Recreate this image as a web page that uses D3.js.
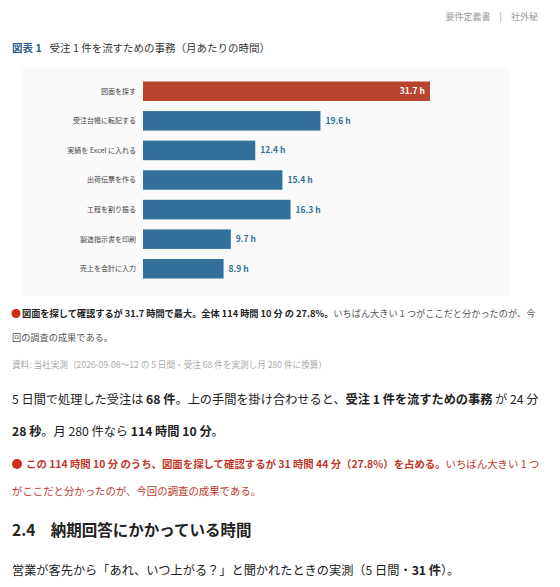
<!DOCTYPE html>
<html><head><meta charset="utf-8">
<script src="https://cdn.jsdelivr.net/npm/d3@7"></script>
<style>
body{margin:0;background:#fff;font-family:"Noto Sans CJK JP","Noto Sans",sans-serif;}
svg{display:block}
</style></head><body>
<svg id="c" width="560" height="587"></svg>
<script>
const categories=["図面を探す","受注台帳に転記する","実績を Excel に入れる","出荷伝票を作る","工程を割り振る","製造指示書を印刷","売上を会計に入力"];
const values=[31.7,19.6,12.4,15.4,16.3,9.7,8.9];
const highlight=[true,false,false,false,false,false,false];
const svg=d3.select("#c");
const F='"Noto Sans CJK JP",sans-serif';
svg.append("text").attr("x",538).attr("y",20).attr("text-anchor","end").attr("font-size",9).attr("fill","#999").attr("font-family",F).text("要件定義書　|　社外秘");
const t=svg.append("text").attr("x",12).attr("y",52).attr("font-size",10.5).attr("font-family",F);
t.append("tspan").attr("fill","#2c5f8a").attr("font-weight","bold").text("図表 1");
t.append("tspan").attr("fill","#333").attr("dx",8).text("受注 1 件を流すための事務（月あたりの時間）");
svg.append("rect").attr("x",22).attr("y",68).attr("width",488).attr("height",228).attr("fill","#fafafa");
const x=d3.scaleLinear().domain([0,31.7]).range([143,430]);
const y=d3.scaleBand().domain(categories).range([80,280]).paddingInner(0.34).paddingOuter(0.05);
const g=svg.append("g");
categories.forEach((c,i)=>{
 const yy=y(c),h=y.bandwidth();
 g.append("rect").attr("x",x(0)).attr("y",yy).attr("width",x(values[i])-x(0)).attr("height",h).attr("fill",highlight[i]?"#b8432f":"#31719b");
 g.append("text").attr("x",136).attr("y",yy+h/2).attr("dy","0.35em").attr("text-anchor","end").attr("font-size",7).attr("fill","#444").attr("font-family",F).text(c);
 const lbl=values[i].toFixed(1)+" h";
 if(highlight[i]) g.append("text").attr("x",x(values[i])-5).attr("y",yy+h/2).attr("dy","0.35em").attr("text-anchor","end").attr("font-size",8.5).attr("font-weight","bold").attr("fill","#fff").attr("font-family",F).text(lbl);
 else g.append("text").attr("x",x(values[i])+5).attr("y",yy+h/2).attr("dy","0.35em").attr("font-size",8.5).attr("font-weight","bold").attr("fill","#31719b").attr("font-family",F).text(lbl);
});
function line(x0,y0,parts,size){
 const tx=svg.append("text").attr("x",x0).attr("y",y0).attr("font-size",size).attr("font-family",F);
 parts.forEach(p=>tx.append("tspan").attr("fill",p[1]||"#222").attr("font-weight",p[2]?"bold":"normal").text(p[0]));
}
svg.append("circle").attr("cx",16).attr("cy",313.5).attr("r",4.5).attr("fill","#d02a1e");
line(22,317,[["図面を探して確認するが 31.7 時間で最大。全体 114 時間 10 分 の 27.8%。","#222",1],["いちばん大きい 1 つがここだと分かったのが、今","#555"]],9.2);
line(12,341,[["回の調査の成果である。","#555"]],9.2);
line(12,368,[["資料: 当社実測（2026-09-08〜12 の 5 日間・受注 68 件を実測し月 280 件に換算）","#aaa"]],8.6);
line(12,404,[["5 日間で処理した受注は "],["68 件",null,1],["。上の手間を掛け合わせると、"],["受注 1 件を流すための事務",null,1],[" が 24 分"]],12.2);
line(12,436,[["28 秒",null,1],["。月 280 件なら "],["114 時間 10 分",null,1],["。"]],12.2);
svg.append("circle").attr("cx",17).attr("cy",464).attr("r",5).attr("fill","#d02a1e");
line(26,468,[["この 114 時間 10 分 のうち、図面を探して確認するが 31 時間 44 分（27.8%）を占める。","#c0392b",1],["いちばん大きい 1 つ","#c0392b"]],10.4);
line(12,495,[["がここだと分かったのが、今回の調査の成果である。","#c0392b"]],10.4);
line(12,536,[["2.4　納期回答にかかっている時間","#222",1]],15.5);
line(12,575,[["営業が客先から「あれ、いつ上がる？」と聞かれたときの実測（5 日間・"],["31 件",null,1],["）。"]],12.2);
</script></body></html>
